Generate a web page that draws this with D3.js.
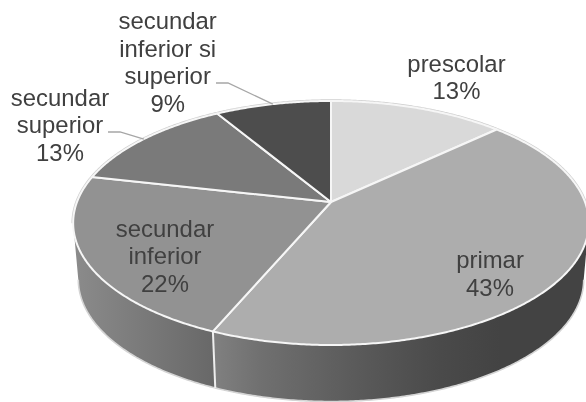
<!DOCTYPE html>
<html><head><meta charset="utf-8">
<script src="https://cdn.jsdelivr.net/npm/d3@7/dist/d3.min.js"></script>
<style>html,body{margin:0;padding:0;background:#fff}svg{display:block;filter:blur(0.4px)}</style>
</head><body><svg id="c" width="586" height="402"></svg>
<script>
// data
const categories = ["prescolar","primar","secundar inferior","secundar superior","secundar inferior si superior"];
const values = [13.0, 43.4, 22.1, 12.9, 8.6];
const percentLabels = ["13%","43%","22%","13%","9%"];
const labelLines = [["prescolar"],["primar"],["secundar","inferior"],["secundar","superior"],["secundar","inferior si","superior"]];
const sliceColors = ["#d9d9d9","#adadad","#929292","#7a7a7a","#4d4d4d"];

// layout
const labelCenters = [[456.5,71.7],[490,268],[165,236.7],[60,105.7],[167.7,29]];
const leaderStarts = [null,null,null,[108,132,120],[216,83,228]];
const lineStep = 27.5, persp = 0.172, wallDepth = 56.5, wallShrink = 0.98;
const DEG = Math.PI/180;

const svg = d3.select("#c");
const xs = d3.scaleLinear().domain([-1,1]).range([331-254,331+254]);
const ys = d3.scaleLinear().domain([-1,1]).range([202+118.4,202-118.4]);
const proj = a => { const w = 1+persp*Math.cos(a);
  return [xs(Math.sin(a)/w), ys(Math.cos(a)/w)]; };
const lower = p => [xs(0)+(p[0]-xs(0))*wallShrink, p[1]+wallDepth];
const sweep = (a0,a1) => { const n=Math.max(2,Math.ceil(Math.abs(a1-a0)/(0.5*DEG)));
  return d3.range(n+1).map(i=>a0+(a1-a0)*i/n); };
const line = d3.line();

const pie = d3.pie().sort(null).value(d=>d).startAngle(0).endAngle(2*Math.PI);
const arcs = pie(values);
const defs = svg.append("defs");
const grad = (id,x1,x2,stops) => { const g=defs.append("linearGradient").attr("id",id)
   .attr("gradientUnits","userSpaceOnUse").attr("x1",x1).attr("x2",x2).attr("y1",0).attr("y2",0);
   stops.forEach(s=>g.append("stop").attr("offset",s[0]).attr("stop-color",s[1])); };
grad("wallA",78,214,[[0,"#8a8a8a"],[1,"#686868"]]);
grad("wallB",214,500,[[0,"#808080"],[0.16,"#707070"],[0.47,"#5c5c5c"],[0.79,"#4a4a4a"],[1,"#434343"]]);

// side wall
const rightLimit = 100*DEG, leftLimit = 260*DEG;
const split = arcs[1].endAngle;
const wall = (a0,a1,fill) => { const top=sweep(a0,a1).map(proj);
  const bot=sweep(a1,a0).map(a=>lower(proj(a)));
  svg.append("path").attr("d",line(top.concat(bot))+"Z").attr("fill",fill); };
wall(rightLimit,split,"url(#wallB)");
wall(split,leftLimit,"url(#wallA)");
// wall outer edge
svg.append("path").attr("d",line(sweep(rightLimit,leftLimit).map(a=>lower(proj(a)))))
  .attr("fill","none").attr("stroke","#d4d4d4").attr("stroke-width",1.6);
// wall separator
svg.append("path").attr("d",line([proj(split),lower(proj(split))]))
  .attr("stroke","#eeeeee").attr("stroke-width",2).attr("fill","none");

// far rim
svg.append("path").attr("d",line(sweep(leftLimit,rightLimit+2*Math.PI).map(proj)))
  .attr("fill","none").attr("stroke","#cfcfcf").attr("stroke-width",3.4);

// top face
svg.selectAll("path.slice").data(arcs).enter().append("path").attr("class","slice")
  .attr("d",d=>line([[xs(0),ys(0)]].concat(sweep(d.startAngle,d.endAngle).map(proj)))+"Z")
  .attr("fill",(d,i)=>sliceColors[i])
  .attr("stroke","#f6f6f6").attr("stroke-width",2).attr("stroke-linejoin","round");

// leaders
arcs.forEach((d,i)=>{ const s=leaderStarts[i]; if(!s) return;
  const e=proj((d.startAngle+d.endAngle)/2);
  svg.append("path").attr("d",line([[s[0],s[1]],[s[2],s[1]],e]))
    .attr("fill","none").attr("stroke","#a6a6a6").attr("stroke-width",1.3);
});

// labels
categories.forEach((c,i)=>{
  const rows = labelLines[i].concat([percentLabels[i]]);
  const t = svg.append("text").attr("text-anchor","middle")
    .attr("font-family","'Liberation Sans',Arial,sans-serif").attr("font-size",23.9).attr("fill","#404040");
  rows.forEach((r,j)=>t.append("tspan").attr("x",labelCenters[i][0]).attr("y",labelCenters[i][1]+j*lineStep).text(r));
});
</script></body></html>
